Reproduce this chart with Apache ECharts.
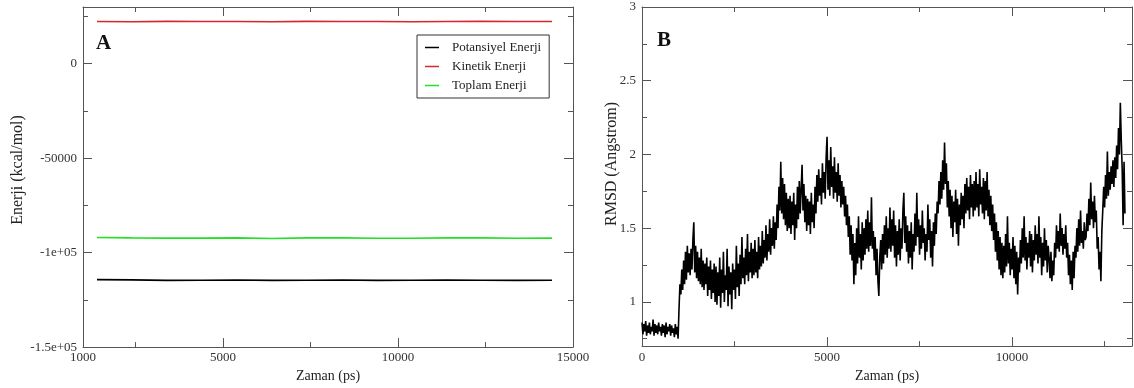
<!DOCTYPE html>
<html>
<head>
<meta charset="utf-8">
<title>Enerji ve RMSD</title>
<script src="https://cdn.jsdelivr.net/npm/echarts@6/dist/echarts.min.js"></script>
<style>
  html, body { margin: 0; padding: 0; background: #fff; }
  #chart { width: 1134px; height: 388px; }
</style>
</head>
<body>
<div id="chart"></div>
<script>
// ---- Panel A: energies (kcal/mol) over simulation time (ps) ----
const energyTime = [1400, 2400, 3400, 4400, 5400, 6400, 7400, 8400, 9400, 10400, 11400, 12400, 13400, 14400];
const potentialEnergy = [-114300, -114400, -114700, -114600, -114500, -114700, -114600, -114500, -114700, -114600, -114500, -114600, -114700, -114600];
const kineticEnergy = [22300, 22200, 22400, 22300, 22300, 22200, 22400, 22300, 22300, 22200, 22300, 22400, 22300, 22300];
const totalEnergy = [-92000, -92200, -92300, -92300, -92200, -92500, -92200, -92200, -92400, -92400, -92200, -92200, -92400, -92300];
const energySeriesNames = ['Potansiyel Enerji', 'Kinetik Enerji', 'Toplam Enerji'];

const energyXLabels = [1000, 5000, 10000, 15000];
const energyXMajor = [5000, 10000];
const energyXMinor = [2500, 7500, 12500];
const energyYLabels = [-150000, -100000, -50000, 0];
const energyYLabelText = ['-1.5e+05', '-1e+05', '-50000', '0'];
const energyYMinor = [-125000, -75000, -25000, 25000];

// ---- Panel B: backbone RMSD (Angstrom), one frame every 25 ps ----
const RMSD_STEP_PS = 25;
const rmsd = [
  // 0 - 975 ps
  0.86, 0.78, 0.85, 0.80, 0.87, 0.77, 0.84, 0.79, 0.86, 0.78,
  0.83, 0.80, 0.88, 0.77, 0.85, 0.79, 0.84, 0.78, 0.86, 0.80,
  0.83, 0.77, 0.85, 0.79, 0.84, 0.76, 0.86, 0.78, 0.83, 0.80,
  0.85, 0.77, 0.84, 0.79, 0.82, 0.76, 0.85, 0.78, 0.83, 0.75,
  // 1000 - 1975 ps
  0.95, 1.12, 1.05, 1.22, 1.08, 1.28, 1.12, 1.34, 1.15, 1.38,
  1.20, 1.33, 1.18, 1.36, 1.22, 1.42, 1.54, 1.20, 1.38, 1.16,
  1.34, 1.14, 1.30, 1.12, 1.36, 1.10, 1.28, 1.08, 1.26, 1.12,
  1.30, 1.04, 1.24, 1.08, 1.28, 1.02, 1.22, 1.06, 1.26, 1.00,
  // 2000 - 2975 ps
  1.24, 0.98, 1.20, 1.04, 1.30, 0.96, 1.22, 1.06, 1.34, 1.00,
  1.18, 1.08, 1.36, 0.97, 1.24, 1.05, 1.20, 0.95, 1.26, 1.08,
  1.22, 1.02, 1.38, 1.10, 1.26, 1.04, 1.32, 1.12, 1.44, 1.16,
  1.30, 1.12, 1.36, 1.18, 1.46, 1.14, 1.34, 1.20, 1.40, 1.16,
  // 3000 - 3975 ps
  1.36, 1.18, 1.42, 1.20, 1.34, 1.16, 1.44, 1.22, 1.38, 1.24,
  1.48, 1.26, 1.42, 1.30, 1.52, 1.28, 1.46, 1.34, 1.56, 1.32,
  1.50, 1.38, 1.58, 1.36, 1.54, 1.42, 1.66, 1.50, 1.78, 1.62,
  1.95, 1.60, 1.84, 1.56, 1.80, 1.52, 1.74, 1.48, 1.70, 1.50,
  // 4000 - 4975 ps
  1.72, 1.46, 1.68, 1.52, 1.74, 1.42, 1.66, 1.50, 1.78, 1.56,
  1.82, 1.60, 1.76, 1.93, 1.62, 1.80, 1.54, 1.72, 1.48, 1.70,
  1.52, 1.68, 1.46, 1.74, 1.54, 1.66, 1.50, 1.78, 1.60, 1.86,
  1.68, 1.90, 1.72, 1.84, 1.66, 1.94, 1.74, 1.88, 1.70, 1.98,
  // 5000 - 5975 ps
  2.12, 1.76, 1.96, 1.72, 2.05, 1.78, 1.92, 1.70, 1.98, 1.74,
  1.88, 1.68, 1.94, 1.72, 1.86, 1.64, 1.82, 1.66, 1.78, 1.58,
  1.72, 1.52, 1.66, 1.44, 1.58, 1.32, 1.52, 1.28, 1.46, 1.12,
  1.40, 1.18, 1.50, 1.26, 1.58, 1.30, 1.46, 1.22, 1.54, 1.28,
  // 6000 - 6975 ps
  1.50, 1.32, 1.56, 1.36, 1.62, 1.34, 1.54, 1.38, 1.71, 1.36,
  1.48, 1.28, 1.44, 1.18, 1.36, 1.14, 1.04, 1.30, 1.42, 1.22,
  1.46, 1.26, 1.52, 1.32, 1.58, 1.30, 1.50, 1.36, 1.64, 1.34,
  1.56, 1.38, 1.62, 1.30, 1.52, 1.24, 1.48, 1.32, 1.56, 1.28,
  // 7000 - 7975 ps
  1.50, 1.36, 1.62, 1.74, 1.40, 1.58, 1.34, 1.52, 1.26, 1.48,
  1.30, 1.54, 1.22, 1.46, 1.34, 1.60, 1.38, 1.74, 1.44, 1.56,
  1.32, 1.52, 1.36, 1.62, 1.40, 1.50, 1.28, 1.46, 1.34, 1.66,
  1.42, 1.56, 1.30, 1.48, 1.24, 1.54, 1.38, 1.60, 1.46, 1.68,
  // 8000 - 8975 ps
  1.60, 1.82, 1.66, 1.88, 1.70, 1.96, 1.76, 2.08, 1.80, 1.94,
  1.64, 1.82, 1.58, 1.76, 1.50, 1.72, 1.44, 1.68, 1.54, 1.76,
  1.46, 1.70, 1.38, 1.66, 1.52, 1.74, 1.56, 1.72, 1.50, 1.80,
  1.60, 1.84, 1.62, 1.78, 1.56, 1.86, 1.64, 1.80, 1.58, 1.82,
  // 9000 - 9975 ps
  1.62, 1.88, 1.64, 1.80, 1.58, 1.90, 1.66, 1.78, 1.60, 1.84,
  1.56, 1.82, 1.62, 1.88, 1.58, 1.76, 1.52, 1.72, 1.48, 1.66,
  1.42, 1.60, 1.34, 1.54, 1.28, 1.48, 1.22, 1.44, 1.18, 1.40,
  1.16, 1.38, 1.20, 1.46, 1.24, 1.58, 1.26, 1.40, 1.18, 1.36,
  // 10000 - 10975 ps
  1.22, 1.44, 1.16, 1.38, 1.12, 1.34, 1.05, 1.30, 1.20, 1.42,
  1.26, 1.50, 1.30, 1.58, 1.28, 1.44, 1.22, 1.40, 1.30, 1.48,
  1.24, 1.46, 1.20, 1.42, 1.28, 1.52, 1.32, 1.46, 1.26, 1.58,
  1.30, 1.44, 1.18, 1.40, 1.24, 1.50, 1.28, 1.42, 1.20, 1.38,
  // 11000 - 11975 ps
  1.30, 1.16, 1.34, 1.14, 1.28, 1.18, 1.40, 1.30, 1.52, 1.36,
  1.48, 1.34, 1.60, 1.38, 1.50, 1.32, 1.46, 1.36, 1.52, 1.30,
  1.40, 1.18, 1.32, 1.12, 1.28, 1.08, 1.34, 1.16, 1.38, 1.30,
  1.50, 1.34, 1.56, 1.38, 1.62, 1.40, 1.48, 1.36, 1.54, 1.42,
  // 12000 - 13050 ps
  1.44, 1.60, 1.48, 1.70, 1.52, 1.81, 1.56, 1.68, 1.50, 1.72,
  1.54, 1.62, 1.36, 1.44, 1.22, 1.34, 1.14, 1.48, 1.62, 1.78,
  1.64, 1.86, 1.70, 2.02, 1.72, 1.88, 1.76, 1.92, 1.80, 1.96,
  1.78, 1.98, 1.84, 2.06, 1.90, 2.18, 2.00, 2.35, 2.10, 1.90,
  1.52, 1.95, 1.60
];

const rmsdXLabels = [0, 5000, 10000];
const rmsdXMajor = [5000, 10000];
const rmsdXMinor = [2500, 7500, 12500];
const rmsdYLabels = [1, 1.5, 2, 2.5, 3];
const rmsdYMinor = [0.75, 1.25, 1.75, 2.25, 2.75];

const SERIF = 'Liberation Serif';
const FRAME = '#555';
const TEXT = '#333';

// One side of a boxed frame: an axis with its line and long ticks,
// plus a bare twin carrying the short ticks.
function frameSide(gridIndex, position, min, max, major, minor, extra) {
  const base = {
    type: 'value', gridIndex, position, min, max,
    splitLine: { show: false },
    axisLine: { show: true, onZero: false, lineStyle: { color: FRAME, width: 1 } },
    axisTick: { show: true, inside: true, length: 9, customValues: major, lineStyle: { color: FRAME } },
    axisLabel: { show: false }
  };
  const twin = {
    type: 'value', gridIndex, position, min, max,
    splitLine: { show: false },
    axisLine: { show: false, onZero: false },
    axisTick: { show: true, inside: true, length: 5, customValues: minor, lineStyle: { color: FRAME } },
    axisLabel: { show: false }
  };
  return [Object.assign(base, extra || {}), twin];
}

const plain = v => String(v);

// Panel A frame
const aBottom = frameSide(0, 'bottom', 1000, 15000, energyXMajor, energyXMinor, {
  name: 'Zaman (ps)', nameLocation: 'middle', nameGap: 19,
  nameTextStyle: { fontFamily: SERIF, fontSize: 14, color: '#222' },
  axisLabel: { show: true, customValues: energyXLabels, margin: 4, fontFamily: SERIF, fontSize: 13, color: TEXT, formatter: plain }
});
const aTop = frameSide(0, 'top', 1000, 15000, energyXMajor, energyXMinor);
const aLeft = frameSide(0, 'left', -150000, 30000, energyYLabels, energyYMinor, {
  axisLabel: {
    show: true, customValues: energyYLabels, margin: 6, fontFamily: SERIF, fontSize: 13, color: TEXT,
    formatter: v => energyYLabelText[energyYLabels.indexOf(v)]
  }
});
const aRight = frameSide(0, 'right', -150000, 30000, energyYLabels, energyYMinor);

// Panel B frame
const bBottom = frameSide(1, 'bottom', 0, 13240, rmsdXMajor, rmsdXMinor, {
  name: 'Zaman (ps)', nameLocation: 'middle', nameGap: 21,
  nameTextStyle: { fontFamily: SERIF, fontSize: 14, color: '#222' },
  axisLabel: { show: true, customValues: rmsdXLabels, margin: 5, fontFamily: SERIF, fontSize: 13, color: TEXT, formatter: plain }
});
const bTop = frameSide(1, 'top', 0, 13240, rmsdXMajor, rmsdXMinor);
const bLeft = frameSide(1, 'left', 0.7, 3, rmsdYLabels, rmsdYMinor, {
  axisLabel: { show: true, customValues: rmsdYLabels, margin: 6, fontFamily: SERIF, fontSize: 13, color: TEXT, formatter: plain }
});
const bRight = frameSide(1, 'right', 0.7, 3, rmsdYLabels, rmsdYMinor);

const xAxes = [...aBottom, ...aTop, ...bBottom, ...bTop];   // 0..3 panel A, 4..7 panel B
const yAxes = [...aLeft, ...aRight, ...bLeft, ...bRight];

const pair = (xs, ys) => xs.map((x, i) => [x, ys[i]]);

function energyLine(name, values, color) {
  return {
    name, type: 'line', xAxisIndex: 0, yAxisIndex: 0,
    data: pair(energyTime, values),
    showSymbol: false, symbol: 'none',
    lineStyle: { color, width: 1.6 },
    itemStyle: { color },
    emphasis: { disabled: true }
  };
}

const chart = echarts.init(document.getElementById('chart'), null, { renderer: 'canvas' });
chart.setOption({
  animation: false,
  backgroundColor: '#fff',
  textStyle: { fontFamily: SERIF },
  grid: [
    { left: 83, top: 7, width: 490, height: 343 },
    { left: 642, top: 7, width: 490, height: 341 }
  ],
  xAxis: xAxes,
  yAxis: yAxes,
  legend: {
    data: energySeriesNames,
    orient: 'vertical',
    left: 417, top: 35,
    icon: 'rect',
    itemWidth: 14, itemHeight: 1.5, itemGap: 4,
    padding: [5, 8, 5, 8],
    borderColor: '#333', borderWidth: 1, backgroundColor: '#fff',
    textStyle: { fontFamily: SERIF, fontSize: 13, lineHeight: 15, color: '#222', padding: [0, 0, 0, 8] },
    selectedMode: false
  },
  graphic: [
    { type: 'text', left: 96, top: 33, style: { text: 'A', font: 'bold 21px "Liberation Serif"', fill: '#111' } },
    { type: 'text', left: 657, top: 30, style: { text: 'B', font: 'bold 21px "Liberation Serif"', fill: '#111' } },
    { type: 'text', x: 18, y: 170, rotation: Math.PI / 2,
      style: { text: 'Enerji (kcal/mol)', font: '16px "Liberation Serif"', fill: '#222', align: 'center', verticalAlign: 'middle' } },
    { type: 'text', x: 612, y: 164, rotation: Math.PI / 2,
      style: { text: 'RMSD (Angstrom)', font: '16px "Liberation Serif"', fill: '#222', align: 'center', verticalAlign: 'middle' } }
  ],
  series: [
    energyLine(energySeriesNames[0], potentialEnergy, '#000000'),
    energyLine(energySeriesNames[1], kineticEnergy, '#d8262b'),
    energyLine(energySeriesNames[2], totalEnergy, '#22e022'),
    {
      name: 'RMSD', type: 'line', xAxisIndex: 4, yAxisIndex: 4,
      data: rmsd.map((v, i) => [i * RMSD_STEP_PS, v]),
      showSymbol: false, symbol: 'none',
      lineStyle: { color: '#000', width: 1.6 },
      emphasis: { disabled: true }
    }
  ]
});
</script>
</body>
</html>
